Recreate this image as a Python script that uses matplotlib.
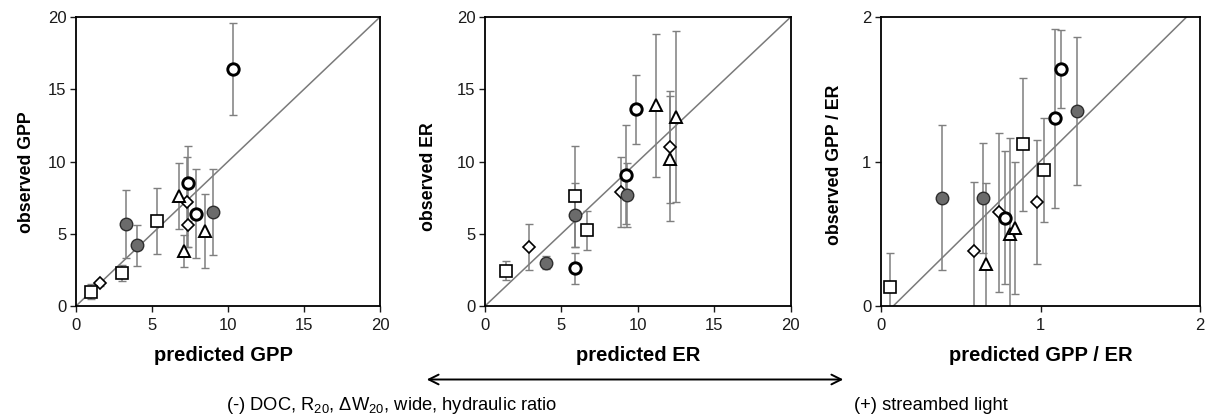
import matplotlib
matplotlib.use("Agg")
import matplotlib.pyplot as plt

plt.rcParams['font.family'] = ['Liberation Sans', 'DejaVu Sans']

# ---------------- data ----------------
point_group = ['open circle', 'open circle', 'open circle',
               'filled circle', 'filled circle', 'filled circle',
               'square', 'square', 'square',
               'diamond', 'diamond', 'diamond',
               'triangle', 'triangle', 'triangle']

gpp_pred = [10.3, 7.4, 7.9, 3.3, 4.0, 9.0, 1.0, 3.0, 5.3, 1.6, 7.3, 7.35, 6.8, 7.1, 8.5]
gpp_obs = [16.4, 8.5, 6.4, 5.7, 4.2, 6.5, 1.0, 2.3, 5.9, 1.6, 7.2, 5.6, 7.6, 3.8, 5.2]
gpp_err = [3.2, 2.6, 3.05, 2.35, 1.4, 2.95, 0.5, 0.55, 2.3, 0.2, 3.1, 1.5, 2.3, 1.1, 2.55]

er_pred = [9.9, 9.2, 5.9, 4.0, 5.9, 9.3, 1.4, 5.9, 6.7, 2.9, 8.9, 12.1, 11.2, 12.5, 12.1]
er_obs = [13.6, 9.1, 2.6, 3.0, 6.3, 7.7, 2.45, 7.6, 5.25, 4.1, 7.9, 11.0, 13.9, 13.1, 10.2]
er_err = [2.4, 3.4, 1.05, 0.45, 2.2, 2.2, 0.65, 3.5, 1.35, 1.6, 2.4, 3.9, 4.95, 5.9, 4.3]

ratio_pred = [0.78, 1.09, 1.13, 0.38, 0.64, 1.23, 0.055, 0.89, 1.02, 0.58, 0.74, 0.98, 0.66, 0.81, 0.84]
ratio_obs = [0.61, 1.30, 1.64, 0.75, 0.75, 1.35, 0.13, 1.12, 0.94, 0.38, 0.65, 0.72, 0.29, 0.50, 0.54]
ratio_err = [0.46, 0.62, 0.27, 0.50, 0.38, 0.51, 0.24, 0.46, 0.36, 0.48, 0.55, 0.43, 0.56, 0.66, 0.46]

# reference lines (slope, intercept)
gpp_line = (1.0, 0.0)
er_line = (1.0, 0.0)
ratio_line = (1.0875, -0.0837)

gpp_ticks = [0, 5, 10, 15, 20]
er_ticks = [0, 5, 10, 15, 20]
ratio_ticks = [0, 1, 2]

x_labels = ['predicted GPP', 'predicted ER', 'predicted GPP / ER']
y_labels = ['observed GPP', 'observed ER', 'observed GPP / ER']

left_note = r'(-) DOC, R$_{\mathregular{20}}$, $\mathregular{\Delta}$W$_{\mathregular{20}}$, wide, hydraulic ratio'
right_note = '(+) streambed light'

# ---------------- styles ----------------
styles = {
    'open circle': dict(marker='o', ms=8.2, mfc='white', mec='black', mew=2.1),
    'filled circle': dict(marker='o', ms=9.0, mfc='#6b6b6b', mec='#2e2e2e', mew=1.0),
    'square': dict(marker='s', ms=8.8, mfc='white', mec='black', mew=1.2),
    'diamond': dict(marker='D', ms=6.2, mfc='white', mec='black', mew=1.2),
    'triangle': dict(marker='^', ms=9.2, mfc='white', mec='black', mew=1.4),
}

W, H = 1210, 418
fig = plt.figure(figsize=(W / 100, H / 100), dpi=100)

# axes boxes in pixels: left, right, top, bottom
boxes = [(76, 380, 17, 306), (485, 790.7, 17, 306), (881, 1200, 17, 306)]
panels = [
    (gpp_pred, gpp_obs, gpp_err, gpp_line, gpp_ticks),
    (er_pred, er_obs, er_err, er_line, er_ticks),
    (ratio_pred, ratio_obs, ratio_err, ratio_line, ratio_ticks),
]
ylabel_pos = [(-0.135, 0.464), (-0.157, 0.447), (-0.119, 0.488)]
xlabel_pos = [(0.485, -0.138), (0.5, -0.138), (0.5, -0.138)]

for i, (box, (xp, yo, ye, line, ticks)) in enumerate(zip(boxes, panels)):
    l, r, t, b = box
    ax = fig.add_axes([l / W, (H - b) / H, (r - l) / W, (b - t) / H])
    ax.set_xlim(ticks[0], ticks[-1])
    ax.set_ylim(ticks[0], ticks[-1])
    ax.set_xticks(ticks)
    ax.set_yticks(ticks)
    slope, icpt = line
    ax.axline((0, icpt), slope=slope, color='#7a7a7a', lw=1.1, zorder=1)
    for x, y, e in zip(xp, yo, ye):
        ax.errorbar(x, y, yerr=e, fmt='none', ecolor='#7f7f7f', elinewidth=1.1,
                    capsize=2.6, capthick=1.0, zorder=2)
    for g in ['diamond', 'triangle', 'square', 'filled circle', 'open circle']:
        xs = [x for x, gg in zip(xp, point_group) if gg == g]
        ys = [y for y, gg in zip(yo, point_group) if gg == g]
        ax.plot(xs, ys, linestyle='none', zorder=3, **styles[g])
    for s in ax.spines.values():
        s.set_linewidth(1.3)
        s.set_color('black')
    ax.tick_params(direction='out', length=4, width=1, labelsize=12,
                   colors='#1a1a1a')
    ax.tick_params(axis='x', pad=5)
    ax.tick_params(axis='y', pad=3)
    ax.set_xlabel(x_labels[i], fontsize=14.5, fontweight='bold')
    ax.set_ylabel(y_labels[i], fontsize=12.8, fontweight='bold')
    ax.yaxis.set_label_coords(*ylabel_pos[i])
    ax.xaxis.set_label_coords(*xlabel_pos[i])

# double-headed arrow and notes
ay = (H - 379.5) / H
fig.add_artist(matplotlib.patches.FancyArrowPatch(
    (426.7 / W, ay), (843.3 / W, ay), transform=fig.transFigure,
    arrowstyle='<->,head_length=7,head_width=3.5', lw=1.4, color='black',
    mutation_scale=1, shrinkA=0, shrinkB=0))
fig.text(226 / W, (H - 406) / H, left_note, fontsize=13.2, ha='left', va='center')
fig.text(854 / W, (H - 406) / H, right_note, fontsize=13.2, ha='left', va='center')

fig.savefig('out.png', dpi=100)
